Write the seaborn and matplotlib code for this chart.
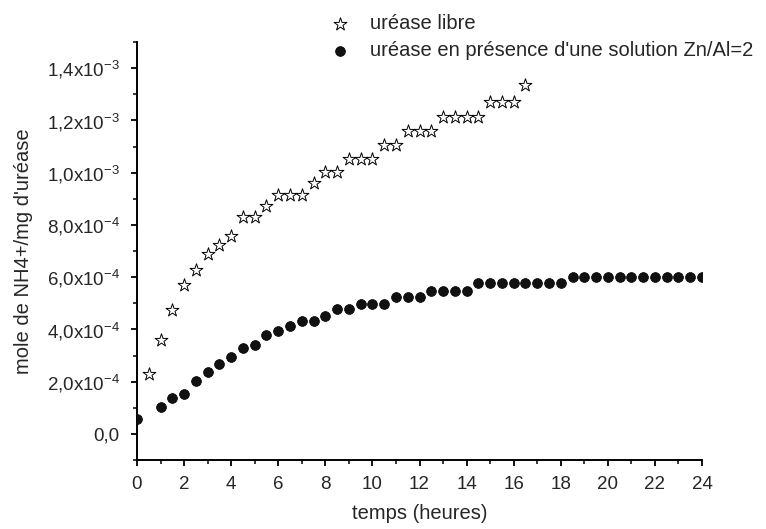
import matplotlib
matplotlib.use("Agg")
import matplotlib.pyplot as plt
import seaborn as sns
import pandas as pd
import numpy as np
from matplotlib.ticker import MultipleLocator, FuncFormatter

# urease libre (stars)
t_libre = [0.5, 1.0, 1.5, 2.0, 2.5, 3.0, 3.5, 4.0, 4.5, 5.0, 5.5, 6.0, 6.5, 7.0, 7.5, 8.0, 8.5,
           9.0, 9.5, 10.0, 10.5, 11.0, 11.5, 12.0, 12.5, 13.0, 13.5, 14.0, 14.5, 15.0, 15.5, 16.0, 16.5]
nh4_libre = [2.31e-4, 3.58e-4, 4.73e-4, 5.69e-4, 6.27e-4, 6.88e-4, 7.23e-4, 7.58e-4, 8.31e-4, 8.31e-4,
             8.73e-4, 9.15e-4, 9.15e-4, 9.15e-4, 9.62e-4, 1.004e-3, 1.004e-3, 1.054e-3, 1.054e-3, 1.054e-3,
             1.104e-3, 1.104e-3, 1.158e-3, 1.158e-3, 1.158e-3, 1.212e-3, 1.212e-3, 1.212e-3, 1.212e-3,
             1.269e-3, 1.269e-3, 1.269e-3, 1.335e-3]

# urease + Zn/Al=2 (dots)
t_znal = [0.0, 1.0, 1.5, 2.0, 2.5, 3.0, 3.5, 4.0, 4.5, 5.0, 5.5, 6.0, 6.5, 7.0, 7.5, 8.0, 8.5, 9.0,
          9.5, 10.0, 10.5, 11.0, 11.5, 12.0, 12.5, 13.0, 13.5, 14.0, 14.5, 15.0, 15.5, 16.0, 16.5,
          17.0, 17.5, 18.0, 18.5, 19.0, 19.5, 20.0, 20.5, 21.0, 21.5, 22.0, 22.5, 23.0, 23.5, 24.0]
nh4_znal = [5.8e-5, 1.04e-4, 1.38e-4, 1.54e-4, 2.04e-4, 2.35e-4, 2.69e-4, 2.96e-4, 3.27e-4, 3.42e-4,
            3.77e-4, 3.92e-4, 4.12e-4, 4.31e-4, 4.31e-4, 4.50e-4, 4.77e-4, 4.77e-4, 4.96e-4, 4.96e-4,
            4.96e-4, 5.23e-4, 5.23e-4, 5.23e-4, 5.46e-4, 5.46e-4, 5.46e-4, 5.46e-4, 5.77e-4, 5.77e-4,
            5.77e-4, 5.77e-4, 5.77e-4, 5.77e-4, 5.77e-4, 5.77e-4, 6.02e-4, 6.02e-4, 6.02e-4, 6.02e-4,
            6.02e-4, 6.02e-4, 6.02e-4, 6.02e-4, 6.02e-4, 6.02e-4, 6.02e-4, 6.02e-4]

label_libre = "uréase libre"
label_znal = "uréase en présence d'une solution Zn/Al=2"

sns.set_style("ticks")
plt.rcParams["font.family"] = ["Liberation Sans", "DejaVu Sans"]
plt.rcParams["mathtext.fontset"] = "custom"
plt.rcParams["mathtext.rm"] = "Liberation Sans"
plt.rcParams["mathtext.default"] = "regular"

fig, ax = plt.subplots(figsize=(7.66, 5.29), dpi=100)
fig.subplots_adjust(left=137/766, right=702/766, bottom=1-460/529, top=1-42/529)

sns.scatterplot(x=t_libre, y=nh4_libre, marker="*", s=95, color="white", edgecolor="black",
                linewidth=0.7, label=label_libre, ax=ax, zorder=3)
sns.scatterplot(x=t_znal, y=nh4_znal, marker="o", s=50, color="#111111", edgecolor="black",
                linewidth=0.5, label=label_znal, ax=ax, zorder=3)

ax.set_xlim(0, 24)
ax.set_ylim(-1e-4, 1.5e-3)
ax.xaxis.set_major_locator(MultipleLocator(2))
ax.xaxis.set_minor_locator(MultipleLocator(1))
ax.yaxis.set_major_locator(MultipleLocator(2e-4))
ax.yaxis.set_minor_locator(MultipleLocator(1e-4))


def fmt(v, pos):
    if abs(v) < 1e-12:
        return "0,0"
    e = int(np.floor(np.log10(abs(v)) + 1e-9))
    m = v / 10 ** e
    return f"{m:.1f}".replace(".", ",") + "x10$^{" + str(e) + "}$"


ax.yaxis.set_major_formatter(FuncFormatter(fmt))
ax.tick_params(which="major", length=4.5, width=1.3, labelsize=13.5, color="black")
ax.tick_params(which="minor", length=3, width=1.1, color="black")
ax.tick_params(axis="x", which="major", pad=7)
ax.tick_params(axis="y", which="major", pad=8)
sns.despine(ax=ax)
for sp in ["left", "bottom"]:
    ax.spines[sp].set_linewidth(1.4)
    ax.spines[sp].set_color("black")

ax.set_xlabel("temps (heures)", fontsize=14.5, labelpad=8)
ax.set_ylabel("mole de NH4+/mg d'uréase", fontsize=14.5, labelpad=10)

handles, labels = ax.get_legend_handles_labels()
if ax.get_legend() is not None:
    ax.get_legend().remove()
fig.legend(handles, labels, loc="upper left", bbox_to_anchor=(330/766, 1 - 14/529), frameon=False,
           fontsize=14.5, handlelength=1.0, handletextpad=1.0, borderpad=0, labelspacing=0.4,
           borderaxespad=0)

fig.savefig("out.png", dpi=100)
